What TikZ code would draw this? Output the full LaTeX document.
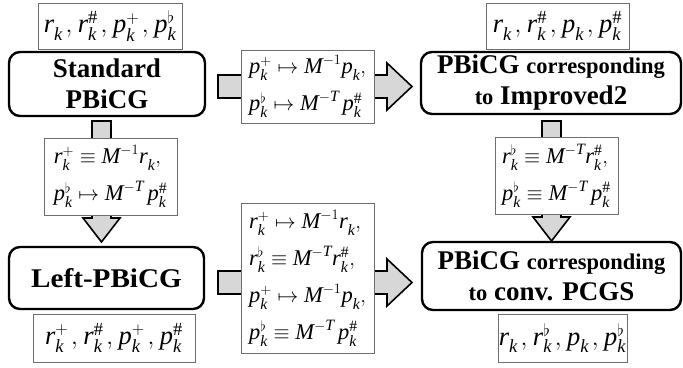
\documentclass[tikz,border=0pt]{standalone}
\usepackage{amsmath}
\usepackage{fontspec}
\setmainfont{Liberation Serif}
\usetikzlibrary{calc}
\definecolor{arrowgray}{RGB}{215,215,215}
\definecolor{framegray}{RGB}{110,110,110}
\newcommand\mi[1]{\textit{#1}}
\newcommand\vk[2]{\mi{#1}_{\mi{k}}^{#2}}
\newcommand\cm{\mkern2mu,\mkern1mu}
\newcommand\harrow[2]{%
  \draw[blockarrow] ($(#1)+(0,11.5pt)$) -- ($(#2)+(-25pt,11.5pt)$) -- ($(#2)+(-25pt,23.5pt)$) -- (#2)
    -- ($(#2)+(-25pt,-23.5pt)$) -- ($(#2)+(-25pt,-11.5pt)$) -- ($(#1)+(0,-11.5pt)$) -- cycle;}
\newcommand\varrow[2]{%
  \draw[blockarrow] ($(#1)+(-9.5pt,0)$) -- ($(#2)+(-9.5pt,24pt)$) -- ($(#2)+(-18.5pt,24pt)$) -- (#2)
    -- ($(#2)+(18.5pt,24pt)$) -- ($(#2)+(9.5pt,24pt)$) -- ($(#1)+(9.5pt,0)$) -- cycle;}
\begin{document}
\begin{tikzpicture}[x=1pt,y=1pt,
  flowbox/.style={draw=black, line width=2.4pt, rounded corners=11pt, fill=white, align=center,
    inner sep=0pt, font=\fontsize{27}{31}\selectfont\bfseries},
  lbl/.style={draw=framegray, line width=0.8pt, fill=white, inner sep=0pt, font=\fontsize{26.5}{30}\selectfont},
  eqbox/.style={draw=framegray, line width=0.8pt, fill=white, inner sep=0pt, align=left,
    font=\fontsize{22.5}{37}\selectfont},
  blockarrow/.style={draw=black, line width=1.6pt, fill=arrowgray, line join=miter}]
\useasboundingbox (0,0) rectangle (683,-367);
% arrow end points
\coordinate (a1s) at (218,-86.5);
\coordinate (a1e) at (412,-86.5);
\coordinate (a2s) at (218,-282.5);
\coordinate (a2e) at (412,-282.5);
\coordinate (a3s) at (101.5,-121);
\coordinate (a3e) at (101.5,-242);
\coordinate (a4s) at (551.5,-121);
\coordinate (a4e) at (551.5,-241);
\harrow{a1s}{a1e}
\harrow{a2s}{a2e}
\varrow{a3s}{a3e}
\varrow{a4s}{a4e}
% main boxes
\node[flowbox, minimum width=196, minimum height=64] (std) at (107,-84) {Standard\\PBiCG};
\node[flowbox, minimum width=260, minimum height=62] (imp) at (551,-83)
  {PBiCG {\fontsize{22.5}{31}\selectfont corresponding}\\{\fontsize{22.5}{31}\selectfont to} Improved2};
\node[flowbox, minimum width=195, minimum height=62] (lft) at (106.5,-278) {\scalebox{1.08}[1]{Left-PBiCG}};
\node[flowbox, minimum width=259, minimum height=68] (cnv) at (551.5,-276)
  {PBiCG {\fontsize{22.5}{31}\selectfont corresponding}\\{\fontsize{22.5}{31}\selectfont to} conv. PCGS};
% variable labels
\node[lbl, minimum width=144, minimum height=46] (ltl) at (110,-26)
  {$\vk{r}{}\cm\vk{r}{\#}\cm\vk{p}{+}\cm\vk{p}{\flat}$};
\node[lbl, minimum width=143, minimum height=46] (ltr) at (557.5,-26)
  {$\vk{r}{}\cm\vk{r}{\#}\cm\vk{p}{}\cm\vk{p}{\#}$};
\node[lbl, minimum width=162, minimum height=48] (lbl) at (114,-338)
  {$\vk{r}{+}\cm\vk{r}{\#}\cm\vk{p}{+}\cm\vk{p}{\#}$};
\node[lbl, minimum width=129, minimum height=48] (lbr) at (562.5,-338)
  {$\vk{r}{}\cm\vk{r}{\flat}\cm\vk{p}{}\cm\vk{p}{\flat}$};
% equation boxes
\node[eqbox, minimum width=133, minimum height=73] (e1) at (307.5,-86.5)
  {$\vk{p}{+}\mapsto \mi{M}^{-1}\vk{p}{},$\\$\vk{p}{\flat}\mapsto \mi{M}^{-\mi{T}}\,\vk{p}{\#}$};
\node[eqbox, minimum width=133, minimum height=77] (e2) at (110.5,-176.5)
  {$\vk{r}{+}\equiv \mi{M}^{-1}\vk{r}{},$\\$\vk{p}{\flat}\mapsto \mi{M}^{-\mi{T}}\,\vk{p}{\#}$};
\node[eqbox, minimum width=123, minimum height=77] (e3) at (556.5,-175.5)
  {$\vk{r}{\flat}\equiv \mi{M}^{-\mi{T}}\vk{r}{\#},$\\$\vk{p}{\flat}\equiv \mi{M}^{-\mi{T}}\,\vk{p}{\#}$};
\node[eqbox, minimum width=133, minimum height=150] (e4) at (307.5,-278)
  {$\vk{r}{+}\mapsto \mi{M}^{-1}\vk{r}{},$\\$\vk{r}{\flat}\equiv \mi{M}^{-\mi{T}}\vk{r}{\#},$\\
   $\vk{p}{+}\mapsto \mi{M}^{-1}\vk{p}{},$\\$\vk{p}{\flat}\equiv \mi{M}^{-\mi{T}}\,\vk{p}{\#}$};
\end{tikzpicture}
\end{document}
